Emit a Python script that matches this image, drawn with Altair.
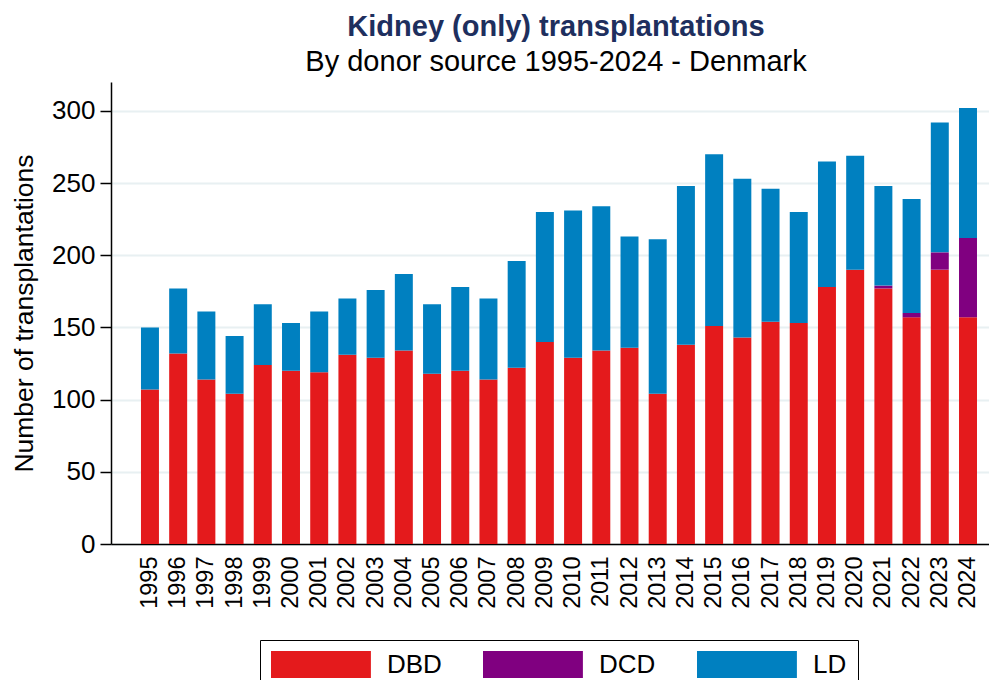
import altair as alt
import pandas as pd

years = [1995, 1996, 1997, 1998, 1999, 2000, 2001, 2002, 2003, 2004,
         2005, 2006, 2007, 2008, 2009, 2010, 2011, 2012, 2013, 2014,
         2015, 2016, 2017, 2018, 2019, 2020, 2021, 2022, 2023, 2024]
dbd = [107, 132, 114, 104, 124, 120, 119, 131, 129, 134,
       118, 120, 114, 122, 140, 129, 134, 136, 104, 138,
       151, 143, 154, 153, 178, 190, 177, 157, 190, 157]
dcd = [0, 0, 0, 0, 0, 0, 0, 0, 0, 0,
       0, 0, 0, 0, 0, 0, 0, 0, 0, 0,
       0, 0, 0, 0, 0, 0, 2, 3, 12, 55]
ld = [43, 45, 47, 40, 42, 33, 42, 39, 47, 53,
      48, 58, 56, 74, 90, 102, 100, 77, 107, 110,
      119, 110, 92, 77, 87, 79, 69, 79, 90, 90]

sources = ["DBD", "DCD", "LD"]
colors = ["#E41A1C", "#800080", "#0080C0"]
y_ticks = [0, 50, 100, 150, 200, 250, 300]

rows = []
for i, yr in enumerate(years):
    for k, (src, vals) in enumerate(zip(sources, [dbd, dcd, ld])):
        rows.append({"year": str(yr), "source": src, "value": vals[i], "ord": k})
df = pd.DataFrame(rows)

FONT = "Liberation Sans, Arial, Helvetica, sans-serif"

chart = alt.Chart(df).mark_bar().encode(
    x=alt.X("year:O", sort=None,
            scale=alt.Scale(paddingInner=0.3626, paddingOuter=0.744, align=0.714),
            axis=alt.Axis(title=None, labelAngle=-90, labelFontSize=23.5, ticks=False,
                          labelPadding=12, domainColor="black", domainWidth=1.5,
                          labelColor="black", labelFont=FONT, grid=False)),
    y=alt.Y("value:Q", stack="zero",
            scale=alt.Scale(domain=[0, 320], nice=False),
            axis=alt.Axis(values=y_ticks, title="Number of transplantations",
                          titleFontSize=26.5, titleFontWeight="normal", titleColor="black",
                          titleFont=FONT, titlePadding=13,
                          labelFontSize=26, labelFont=FONT, labelColor="black",
                          tickSize=11, tickColor="black", tickWidth=1.5,
                          domainColor="black", domainWidth=1.5,
                          gridColor="#E8F0F2", gridWidth=2, labelPadding=5)),
    color=alt.Color("source:N",
                    scale=alt.Scale(domain=sources, range=colors),
                    legend=alt.Legend(title=None, orient="none", legendX=149, legendY=558,
                                      direction="horizontal", strokeColor="black",
                                      padding=11, fillColor="white",
                                      symbolType="M-1,-1H6.4V1H-1Z", symbolSize=729,
                                      symbolStrokeWidth=0, symbolOpacity=1,
                                      labelFontSize=26, labelFont=FONT, labelColor="black",
                                      labelOffset=89, columnPadding=41)),
    order=alt.Order("ord:Q"),
).properties(
    width=878,
    height=462,
    autosize=alt.AutoSizeParams(type="none"),
    padding={"left": 103, "top": 74, "right": 0, "bottom": 136},
    title=alt.TitleParams(text="Kidney (only) transplantations",
                          subtitle="By donor source 1995-2024 - Denmark",
                          fontSize=29, fontWeight="bold", color="#1E2F5E", font=FONT,
                          subtitleFontSize=29, subtitleColor="black", subtitleFont=FONT,
                          anchor="middle", offset=5, subtitlePadding=6, dx=6),
).configure_view(stroke=None)

chart.save("out.html", embed_options={"renderer": "svg", "actions": False})
